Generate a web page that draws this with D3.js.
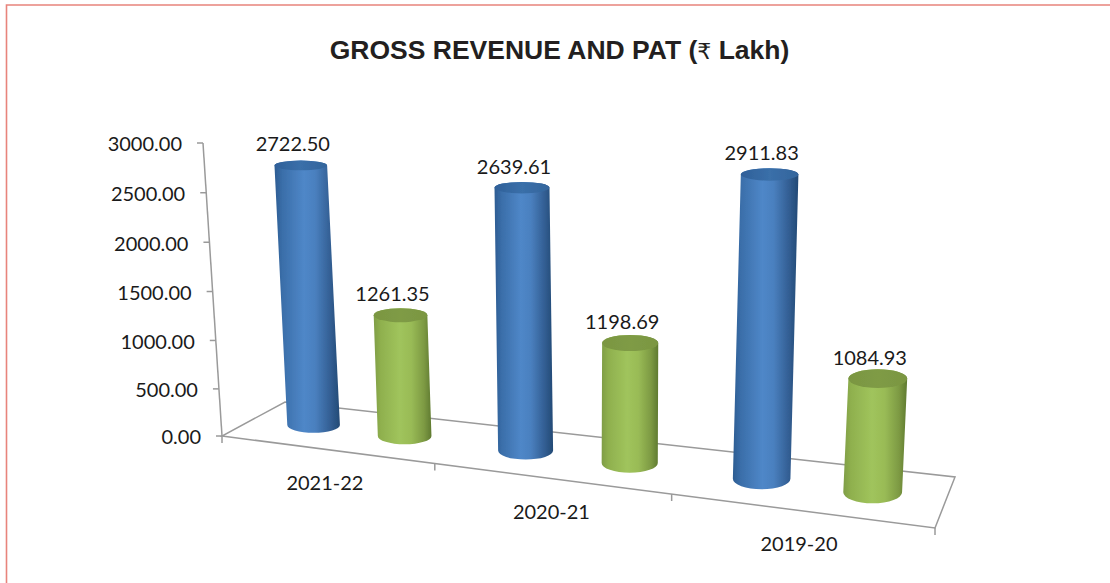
<!DOCTYPE html>
<html><head><meta charset="utf-8">
<script src="https://cdn.jsdelivr.net/npm/d3@7"></script>
<style>html,body{margin:0;padding:0;background:#fff}svg{display:block}</style>
</head><body><svg id="c" width="1110" height="583"></svg>
<script>
const years = ["2021-22","2020-21","2019-20"];
const seriesNames = ["Gross Revenue","PAT"];
const grossRevenue = [2722.50,2639.61,2911.83];
const pat = [1261.35,1198.69,1084.93];
const yTicks = [0,500,1000,1500,2000,2500,3000];
const floorTicks = [0,0.343,0.665,1];
const titleText = "GROSS REVENUE AND PAT (";
const titleUnit = "₹";
const titleEnd = " Lakh)";

const svg = d3.select("#c");
const FONT = "Lato, Carlito, sans-serif";
const AX = "#9a9a9a";

svg.append("path").attr("d","M6.5,583V5H1110").attr("fill","none").attr("stroke","#e8847c").attr("stroke-width",1.6);

const t = svg.append("text").attr("x",559.5).attr("y",59).attr("text-anchor","middle")
  .attr("font-family","Liberation Sans, Arial, sans-serif").attr("font-weight",700).attr("font-size",26.5).attr("fill","#231f20");
t.append("tspan").text(titleText);
t.append("tspan").attr("font-family","DejaVu Sans").attr("font-weight",400).attr("font-size",22).text(titleUnit);
t.append("tspan").text(titleEnd);

// Projected 3D frame
const frontX = d3.scaleLinear().domain([0,1]).range([222,935]);
const frontY = d3.scaleLinear().domain([0,1]).range([436,528]);
const backX  = d3.scaleLinear().domain([0,1]).range([285,955]);
const backY  = d3.scaleLinear().domain([0,1]).range([402,477]);
const warp = d3.scalePow().exponent(1.13).domain([0,1]).range([0,1]);
const floorPt = (u,v)=>{const w=warp(u);return [
  frontX(w)+(backX(w)-frontX(w))*v, frontY(w)+(backY(w)-frontY(w))*v];};
const vanish = [607,6374];
const y = d3.scalePow().exponent(1.02).domain([0,3000]).range([436,143]);
const yNorm = d3.scalePow().exponent(1.02).domain([0,3000]).range([0,1]);
const heightAt = d3.scaleLinear().domain([0,1]).range([283,325]);
const widthAt = d3.scaleLinear().domain([0,1]).range([26,29.8]);
const ryBase = d3.scaleLinear().domain([0,1]).range([7.5,11.5]);
const ryTopRatio = d3.scaleLinear().domain([0.36,1]).range([0.85,0.58]);
const cat = d3.scaleBand().domain(years).range([0.023,0.995]);
const ser = d3.scalePoint().domain(seriesNames).range([cat.step()*0.275,cat.step()*0.725]);
const axisSlant = d3.scaleLinear().domain([436,143]).range([222,203]);

// Floor
const g = svg.append("g").attr("fill","none").attr("stroke",AX).attr("stroke-width",1.5);
const line = d3.line();
g.append("path").attr("d",line([floorPt(0,0),floorPt(1,0),floorPt(1,1),floorPt(0,1)])+"Z");
floorTicks.forEach(u=>{const p=floorPt(u,0);
  g.append("path").attr("d",line([p,[p[0],p[1]+7]]));});

// Value axis: library axis, each tick slid along the leaning wall edge
const axG = svg.append("g").call(d3.axisLeft(y).tickValues(yTicks).tickFormat(d3.format(".2f")).tickSize(6).tickPadding(15));
axG.select(".domain").remove();
axG.selectAll(".tick").attr("transform",d=>`translate(${axisSlant(y(d))},${y(d)})`);
axG.selectAll(".tick line").attr("stroke",AX).attr("stroke-width",1.5);
axG.selectAll(".tick text").attr("font-family",FONT).attr("font-size",20).attr("fill","#1a1a1a").attr("dy","0.42em");
svg.append("path").attr("fill","none").attr("stroke",AX).attr("stroke-width",1.5)
  .attr("d",line([[axisSlant(y(0)),y(0)],[axisSlant(y(3000)),y(3000)]]));

// Gradients
const defs = svg.append("defs");
function grad(id,stops){const l=defs.append("linearGradient").attr("id",id);
  stops.forEach(([o,c])=>l.append("stop").attr("offset",o).attr("stop-color",c));}
grad("gBlue",[[0,"#2c5c92"],[.12,"#3a6ea9"],[.45,"#4f87c8"],[.62,"#4a80bf"],[.85,"#335f94"],[1,"#234a75"]]);
grad("gGreen",[[0,"#7f9d45"],[.12,"#8fb04e"],[.45,"#a0c45c"],[.65,"#99bb56"],[.87,"#7d9a43"],[1,"#5f7a30"]]);
grad("gBlueTop",[[0,"#2f6099"],[.5,"#3a6fa9"],[1,"#34659c"]]);
grad("gGreenTop",[[0,"#7a9642"],[.5,"#7f9b45"],[1,"#7a9642"]]);
defs.append("filter").attr("id","soft").append("feGaussianBlur").attr("stdDeviation",0.5);

// Bars
const rows = years.flatMap((yr,i)=>[
  {yr,s:seriesNames[0],val:grossRevenue[i],fill:"gBlue",top:"gBlueTop"},
  {yr,s:seriesNames[1],val:pat[i],fill:"gGreen",top:"gGreenTop"}]);
const bars = svg.append("g").selectAll("g").data(rows).join("g");
bars.each(function(d){
  const el=d3.select(this);
  const u=cat(d.yr)+ser(d.s), w=warp(u);
  const [bx,by]=floorPt(u,0.53);
  const k=yNorm(d.val), H=heightAt(w)*k;
  const tx=bx-(vanish[0]-bx)/(vanish[1]-by)*H, ty=by-H;
  const r=widthAt(w), ryB=ryBase(w), ryT=ryB*ryTopRatio(k);
  const cyl=el.append("g").attr("filter","url(#soft)");
  cyl.append("path").attr("fill",`url(#${d.fill})`).attr("d",
    `M${tx-r},${ty}L${bx-r},${by}A${r},${ryB} 0 0 0 ${bx+r},${by}L${tx+r},${ty}A${r},${ryT} 0 0 0 ${tx-r},${ty}Z`);
  cyl.append("ellipse").attr("cx",tx).attr("cy",ty).attr("rx",r).attr("ry",ryT).attr("fill",`url(#${d.top})`);
  el.append("text").attr("x",tx-8).attr("y",ty-14).attr("text-anchor","middle")
    .attr("font-family",FONT).attr("font-size",20).attr("fill","#1a1a1a").text(d.val.toFixed(2));
});

// Category labels
svg.append("g").selectAll("text").data(years).join("text")
  .attr("x",d=>floorPt(cat(d)+cat.bandwidth()/2,0)[0]-3)
  .attr("y",d=>floorPt(cat(d)+cat.bandwidth()/2,0)[1]+40)
  .attr("text-anchor","middle").attr("font-family",FONT).attr("font-size",20).attr("fill","#1a1a1a").text(d=>d);
</script></body></html>
